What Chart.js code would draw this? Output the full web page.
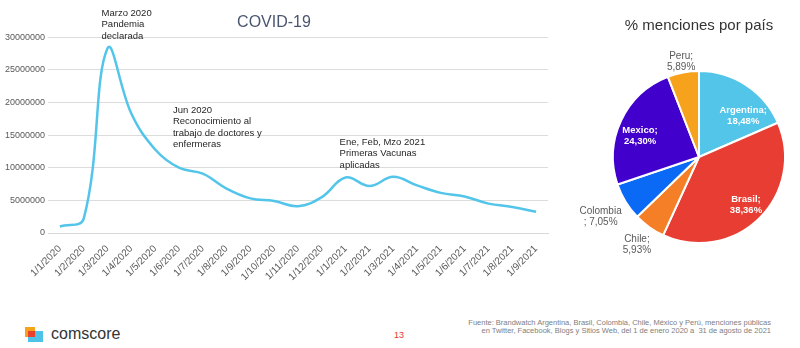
<!DOCTYPE html>
<html>
<head>
<meta charset="utf-8">
<script src="https://cdn.jsdelivr.net/npm/chart.js@4.4.0/dist/chart.umd.min.js"></script>
<style>
  body { margin: 0; background: #fff; font-family: Arial, "Liberation Sans", sans-serif; }
  #wrap { position: relative; width: 800px; height: 348px; overflow: hidden; }
  #linechart { position: absolute; left: 0; top: 0; width: 560px; height: 290px; }
  #piechart { position: absolute; left: 560px; top: 0; width: 240px; height: 300px; }
  .logo { position: absolute; }
  #brand { position: absolute; left: 51px; top: 325px; font-size: 16px; color: #333; }
  #page { position: absolute; left: 394px; top: 330px; font-size: 9px; color: #e8382e; }
  #source { position: absolute; right: 29px; top: 319px; font-size: 7.5px; line-height: 8px; color: #808080; text-align: right; }
</style>
</head>
<body>
<div id="wrap">
  <canvas id="linechart" width="560" height="290"></canvas>
  <canvas id="piechart" width="240" height="300"></canvas>
  <div class="logo" style="left:25px;top:327px;width:10px;height:10px;background:#f7a21b"></div>
  <div class="logo" style="left:28px;top:331px;width:15px;height:11px;background:#4ec3ea"></div>
  <div class="logo" style="left:28px;top:331px;width:7px;height:6px;background:#e8412f"></div>
  <div id="brand">comscore</div>
  <div id="page">13</div>
  <div id="source">Fuente: Brandwatch Argentina, Brasil, Colombia, Chile, México y Perú, menciones públicas<br>en Twitter, Facebook, Blogs y Sitios Web, del 1 de enero 2020 a &nbsp;31 de agosto de 2021</div>
</div>
<script>
// monthly mentions
let months = ['1/1/2020', '1/2/2020', '1/3/2020', '1/4/2020', '1/5/2020', '1/6/2020', '1/7/2020',
  '1/8/2020', '1/9/2020', '1/10/2020', '1/11/2020', '1/12/2020', '1/1/2021', '1/2/2021',
  '1/3/2021', '1/4/2021', '1/5/2021', '1/6/2021', '1/7/2021', '1/8/2021', '1/9/2021'];
let mentions = [1000000, 2200000, 28300000, 18300000, 12800000, 10000000, 9100000,
  6800000, 5300000, 4900000, 4100000, 5500000, 8500000, 7200000,
  8600000, 7300000, 6150000, 5600000, 4500000, 4000000, 3250000];

// notes on the line chart (category index, value where the first line sits)
let noteIndex = [2, 5, 12];
let noteValue = [33700000, 18800000, 13900000];
let noteText = [
  ['Marzo 2020', 'Pandemia', 'declarada'],
  ['Jun 2020', 'Reconocimiento al', 'trabajo de doctores y', 'enfermeras'],
  ['Ene, Feb, Mzo 2021', 'Primeras Vacunas', 'aplicadas']
];

// pie
let countries = ['Argentina', 'Brasil', 'Chile', 'Colombia', 'Mexico', 'Peru'];
let shares = [18.48, 38.36, 5.93, 7.05, 24.30, 5.89];
let pieColors = ['#52c5e8', '#e73d32', '#f47f27', '#0a6af5', '#4100cc', '#f6a21c'];

let notesPlugin = {
    id: 'notes',
    afterDraw(chart) {
        let ctx = chart.ctx;
        let xs = chart.scales.x, ys = chart.scales.y;
        ctx.save();
        ctx.font = '9.5px Arial, "Liberation Sans"';
        ctx.fillStyle = '#262626';
        ctx.textBaseline = 'middle';
        ctx.textAlign = 'left';
        noteText.forEach(function (lines, i) {
            let x = xs.getPixelForValue(noteIndex[i]) - 6;
            let y = ys.getPixelForValue(noteValue[i]);
            lines.forEach(function (t, j) {
                ctx.fillText(t, x, y + j * 11.5);
            });
        });
        ctx.restore();
    }
};

let LineChart = new Chart(document.getElementById('linechart'), {
    type: 'line',
    data: {
        labels: months,
        datasets: [{
            label: 'Menciones',
            data: mentions,
            borderColor: '#54c5ea',
            borderWidth: 2.5,
            pointRadius: 0,
            tension: 0.4,
            fill: false
        }]
    },
    options: {
        responsive: false,
        maintainAspectRatio: false,
        animation: false,
        layout: { padding: { left: 0, right: 12, top: 0, bottom: 0 } },
        plugins: {
            legend: { display: false },
            tooltip: { enabled: false },
            title: {
                display: true,
                text: 'COVID-19',
                color: '#4a5670',
                font: { size: 16, family: 'Arial, "Liberation Sans"', weight: 'normal' },
                padding: { top: 13, bottom: 5 }
            }
        },
        scales: {
            x: {
                offset: true,
                grid: { display: false },
                border: { color: '#d9d9d9' },
                ticks: {
                    autoSkip: false,
                    minRotation: 45,
                    maxRotation: 45,
                    color: '#595959',
                    padding: 2,
                    font: { size: 10, family: 'Arial, "Liberation Sans"' }
                },
                afterFit(s) { s.height = 57; }
            },
            y: {
                min: 0,
                max: 30000000,
                grid: { color: '#dcdcdc', drawTicks: false },
                border: { display: false },
                ticks: {
                    stepSize: 5000000,
                    color: '#595959',
                    padding: 3,
                    font: { size: 9, family: 'Arial, "Liberation Sans"' },
                    callback: function (v) { return String(v); }
                },
                afterFit(s) { s.width = 48; }
            }
        }
    },
    plugins: [notesPlugin]
});

// label placement: radius as a fraction of the pie radius, angle shift in degrees
let labelRadius = [0.7, 0.78, 1.25, 1.34, 0.73, 1.13];
let labelShift = [14, 0, 0, 0, -5, 0];
let labelInside = [true, true, false, false, true, false];

let pieLabels = {
    id: 'pieLabels',
    afterDatasetsDraw(chart) {
        let ctx = chart.ctx;
        let arcs = chart.getDatasetMeta(0).data;
        ctx.save();
        ctx.textAlign = 'center';
        ctx.textBaseline = 'middle';
        arcs.forEach(function (arc, i) {
            let mid = (arc.startAngle + arc.endAngle) / 2 + labelShift[i] * Math.PI / 180;
            let r = arc.outerRadius * labelRadius[i];
            let x = arc.x + Math.cos(mid) * r;
            let y = arc.y + Math.sin(mid) * r;
            let pct = shares[i].toFixed(2).replace('.', ',') + '%';
            let l1 = countries[i] + ';';
            let l2 = pct;
            if (countries[i] === 'Colombia') { l1 = 'Colombia'; l2 = '; ' + pct; }
            if (labelInside[i]) {
                ctx.fillStyle = '#ffffff';
                ctx.font = 'bold 9.5px Arial, "Liberation Sans"';
            } else {
                ctx.fillStyle = '#595959';
                ctx.font = '10px Arial, "Liberation Sans"';
            }
            ctx.fillText(l1, x, y - 5.5);
            ctx.fillText(l2, x, y + 5.5);
        });
        ctx.restore();
    }
};

let PieChart = new Chart(document.getElementById('piechart'), {
    type: 'pie',
    data: {
        labels: countries,
        datasets: [{
            data: shares,
            backgroundColor: pieColors,
            borderColor: '#ffffff',
            borderWidth: 2
        }]
    },
    options: {
        responsive: false,
        maintainAspectRatio: false,
        animation: false,
        layout: { padding: { left: 52, right: 14, top: 0, bottom: 56 } },
        plugins: {
            legend: { display: false },
            tooltip: { enabled: false },
            title: {
                display: true,
                text: '% menciones por país',
                color: '#333333',
                font: { size: 15, family: 'Arial, "Liberation Sans"', weight: 'normal' },
                padding: { top: 17, bottom: 35 }
            }
        }
    },
    plugins: [pieLabels]
});
</script>
</body>
</html>
